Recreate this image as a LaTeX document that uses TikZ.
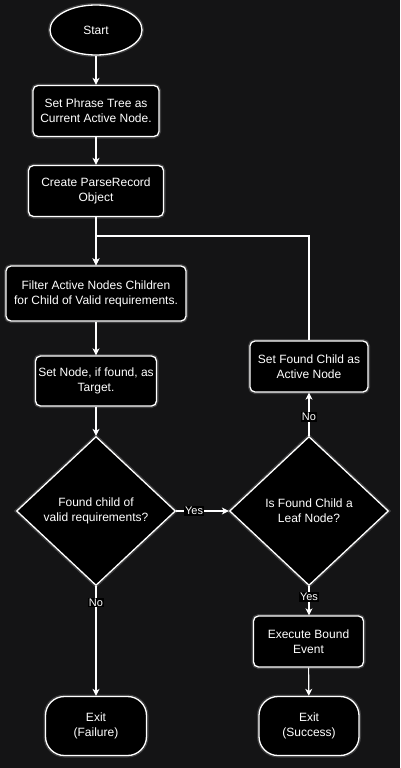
\documentclass[tikz,border=0pt]{standalone}
\usepackage{fontspec}
\setmainfont{Liberation Sans}
\usetikzlibrary{shapes.geometric,arrows.meta}

\definecolor{canvas}{RGB}{20,20,21}

\tikzset{
  glow/.style={preaction={draw=white,line width=4pt,opacity=0.18}},
  shape base/.style={draw=white, fill=black, line width=1.3pt, glow,
    text=white, align=center, inner sep=1pt,
    font=\fontsize{12}{15}\selectfont},
  procbox/.style={shape base, rectangle, rounded corners=5pt},
  termbox/.style={shape base, rectangle, rounded corners=19pt,
    minimum width=101pt, minimum height=59pt},
  startbox/.style={shape base, ellipse, minimum width=92pt, minimum height=50pt},
  testbox/.style={shape base, diamond, inner sep=0pt, aspect=1.07,
    minimum width=159pt, minimum height=149pt},
  flow/.style={draw=white, line width=1.1pt,
    -{Stealth[length=7pt,width=7pt,inset=2pt]}},
  answer/.style={fill=black, text=white, inner sep=1pt,
    font=\fontsize{11}{13}\selectfont}
}

\begin{document}
\begin{tikzpicture}[x=1pt,y=-1pt]
  %% Canvas
  \fill[canvas] (0,0) rectangle (400,768);
  \useasboundingbox (0,0) rectangle (400,768);

  %% Left column
  \node[startbox] (start) at (96,30) {Start};
  \node[procbox, minimum width=126pt, minimum height=51pt] (phrase) at (96,111)
    {Set Phrase Tree as\\Current Active Node.};
  \node[procbox, minimum width=135pt, minimum height=51pt] (record) at (96,191)
    {Create ParseRecord\\Object};
  \node[procbox, minimum width=180pt, minimum height=55pt] (filter) at (96,293.5)
    {Filter Active Nodes Children\\for Child of Valid requirements.};
  \node[procbox, minimum width=121pt, minimum height=50pt] (target) at (96,381)
    {Set Node, if found, as\\Target.};
  \node[testbox] (found) at (96,511) {Found child of\\valid requirements?};
  \node[termbox] (failure) at (96,726) {Exit\\(Failure)};

  %% Right column
  \node[procbox, minimum width=118pt, minimum height=51pt] (activate) at (309,366.5)
    {Set Found Child as\\Active Node};
  \node[testbox] (leaf) at (309,511) {Is Found Child a\\Leaf Node?};
  \node[procbox, minimum width=110pt, minimum height=51pt] (execute) at (308.5,641.5)
    {Execute Bound\\Event};
  \node[termbox, minimum width=100pt] (success) at (309,726) {Exit\\(Success)};

  %% Straight connectors
  \foreach \a/\b in {start/phrase, phrase/record, record/filter, filter/target,
                     target/found, execute/success}
  {
    \draw[flow] (\a) -- (\b);
  }

  %% Decisions
  \draw[flow] (found) -- node[answer, pos=0.34] {Yes} (leaf);
  \draw[flow] (found) -- node[answer, pos=0.15] {No} (failure);
  \draw[flow] (leaf) -- node[answer, pos=0.37] {Yes} (execute.north -| leaf.south);
  \draw[flow] (leaf) -- node[answer, pos=0.44] {No} (activate);

  %% Loop back to the filter step
  \coordinate (join) at (96,236);
  \draw[flow] (activate.north) |- (join) -- (filter.north);

\end{tikzpicture}
\end{document}
